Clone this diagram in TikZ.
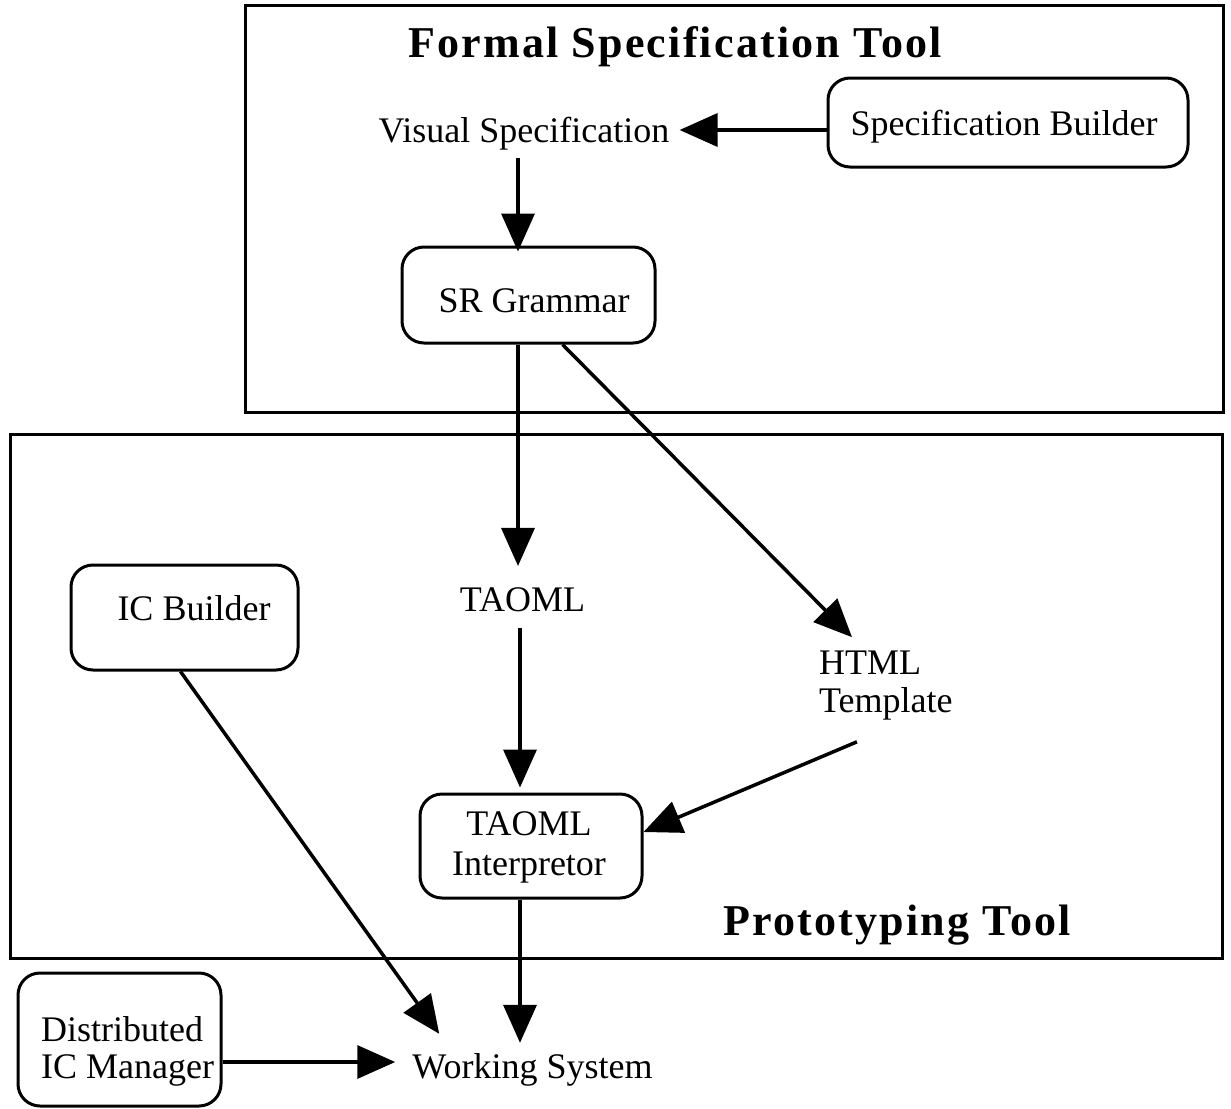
\documentclass[tikz,border=0pt]{standalone}
\usepackage{fontspec}
\setmainfont{Liberation Serif}
\newfontfamily\ttlfont[LetterSpace=5]{Liberation Serif}
\usetikzlibrary{arrows.meta}
\begin{document}
\begin{tikzpicture}[x=1pt,y=-1pt,
  frame/.style={draw,line width=3pt},
  rbox/.style={draw,line width=3pt,rounded corners=22pt,inner sep=0pt},
  txt/.style={inner sep=0pt,font=\fontsize{36}{38}\selectfont},
  ttl/.style={inner sep=0pt,font=\ttlfont\bfseries\fontsize{44}{48}\selectfont},
  arr/.style={line width=3.5pt,-{Triangle[length=38pt,width=33pt]}}]
\useasboundingbox (0,0) rectangle (1231,1108);
\coordinate (colA) at (518,0);
\coordinate (colB) at (520,0);

\draw[frame] (245,6) rectangle (1223,412);
\draw[frame] (10,434) rectangle (1222,958);

\node[ttl,anchor=base] (t1) at (675,58) {Formal Specification Tool};
\node[ttl,anchor=base] (t2) at (897,935) {Prototyping Tool};

\node[rbox,minimum width=360pt,minimum height=89pt] (sb) at (1008,122.5) {};
\node[txt,anchor=base] (sbt) at (1004,135) {Specification Builder};
\node[txt,anchor=base,inner xsep=10pt] (vs) at (524,142) {Visual Specification};
\node[rbox,minimum width=253pt,minimum height=96pt] (sr) at (528.5,295) {};
\node[txt,anchor=base] (srt) at (534,312) {SR Grammar};
\node[txt,anchor=base] (taoml) at (522.5,611) {TAOML};
\node[txt,anchor=west,align=left] (html) at (819,686) {HTML\\Template};
\node[rbox,minimum width=227pt,minimum height=105pt] (icb) at (184.5,617.5) {};
\node[txt,anchor=base] (icbt) at (194,620) {IC Builder};
\node[rbox,minimum width=222pt,minimum height=104pt] (interp) at (531,846) {};
\node[txt,align=center,font=\fontsize{36}{40}\selectfont] (interpt) at (529,847) {TAOML\\Interpretor};
\node[rbox,minimum width=203pt,minimum height=133pt] (dicm) at (119.5,1039.5) {};
\node[txt,anchor=west,align=left,font=\fontsize{36}{37}\selectfont] (dicmt) at (41,1051) {Distributed\\IC Manager};
\node[txt,anchor=base,inner xsep=17pt] (ws) at (532.5,1078) {Working System};

\coordinate (sbo) at ([yshift=-7.5pt]sb.west);
\draw[arr] (sbo) -- (vs.east |- sbo);
\coordinate (vsb) at ([yshift=-8pt]vs.south);
\coordinate (srn) at ([yshift=-6pt]sr.north);
\draw[arr] (vsb -| colA) -- (srn -| colA);
\coordinate (tmt) at ([yshift=21pt]taoml.north);
\draw[arr] (sr.south -| colA) -- (tmt -| colA);
\draw[arr] ([xshift=34pt]sr.south) -- ([xshift=33pt,yshift=14pt]html.north west);
\coordinate (tmb) at ([yshift=-16pt]taoml.south);
\coordinate (itn) at ([yshift=5pt]interp.north);
\draw[arr] (tmb -| colB) -- (itn -| colB);
\draw[arr] ([xshift=-29pt,yshift=-21pt]html.south) -- ([yshift=14pt]interp.east);
\coordinate (wst) at ([yshift=10pt]ws.north);
\draw[arr] (interp.south -| colB) -- (wst -| colB);
\draw[arr] ([xshift=-4pt]icb.south) -- ([xshift=44pt,yshift=19pt]ws.north west);
\coordinate (dout) at ([yshift=-22.5pt]dicm.east);
\draw[arr] (dout) -- (ws.west |- dout);
\end{tikzpicture}
\end{document}
